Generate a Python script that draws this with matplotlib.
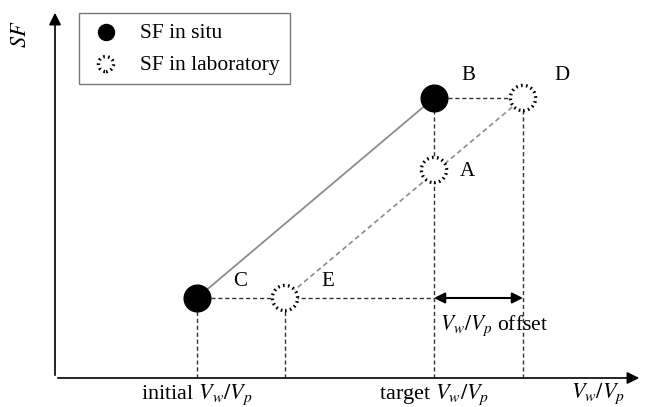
import matplotlib.pyplot as plt

plt.rcParams['font.family'] = ['Liberation Serif', 'DejaVu Serif']
plt.rcParams['mathtext.fontset'] = 'stix'

# schematic values (arbitrary units)
insitu_x = [1.42, 3.79]      # C, B
insitu_y = [0.80, 2.80]
lab_x = [2.30, 3.79, 4.68]   # E, A, D
lab_y = [0.80, 2.08, 2.80]
pt_names = ['C', 'B', 'E', 'A', 'D']
name_x = [1.85, 4.13, 2.73, 4.12, 5.07]
name_y = [0.96, 3.03, 0.96, 2.06, 3.03]
tick_x = [1.42, 3.79]
tick_labels = ['initial $V_w/V_p$', 'target $V_w/V_p$']

fig = plt.figure(figsize=(6.59, 4.07), dpi=100)
ax = fig.add_axes([0, 0, 1, 1])
ax.set_xlim(-0.55, 6.04)
ax.set_ylim(-0.29, 3.78)
ax.axis('off')

# axes with arrows
ax.annotate('', xy=(0, 3.68), xytext=(0, 0),
            arrowprops=dict(arrowstyle='-|>', color='k', lw=1.2, mutation_scale=18))
ax.annotate('', xy=(5.87, 0), xytext=(0, 0),
            arrowprops=dict(arrowstyle='-|>', color='k', lw=1.2, mutation_scale=18))
ax.text(-0.33, 3.44, '$SF$', rotation=90, fontsize=16, ha='center', va='center')
ax.text(5.43, -0.16, '$V_w/V_p$', fontsize=16, ha='center', va='center')
for x, lab in zip(tick_x, tick_labels):
    ax.text(x, -0.17, lab, fontsize=16, ha='center', va='center')

dash = dict(color='#333333', lw=1, linestyle=(0, (3, 2)))
# verticals
ax.plot([insitu_x[0], insitu_x[0]], [0, insitu_y[0]], **dash)
ax.plot([lab_x[0], lab_x[0]], [0, lab_y[0]], **dash)
ax.plot([insitu_x[1], insitu_x[1]], [0, insitu_y[1]], **dash)
ax.plot([lab_x[2], lab_x[2]], [0, lab_y[2]], **dash)
# horizontals
ax.plot([insitu_x[0], insitu_x[1]], [insitu_y[0], insitu_y[0]], **dash)
ax.plot([insitu_x[1], lab_x[2]], [insitu_y[1], lab_y[2]], **dash)
# trend lines
ax.plot(insitu_x, insitu_y, color='#8c8c8c', lw=1.3)
ax.plot([lab_x[0], lab_x[2]], [lab_y[0], lab_y[2]], color='#8c8c8c', lw=1.2,
        linestyle=(0, (3, 2)))

h1 = ax.scatter(insitu_x, insitu_y, s=370, color='k', zorder=5)
h2 = ax.scatter(lab_x, lab_y, s=330, facecolors='white', edgecolors='k', linewidths=2.4,
                linestyles=(0, (0.5, 1.0)), zorder=5)

for n, x, y in zip(pt_names, name_x, name_y):
    ax.text(x, y, n, fontsize=15, ha='center', va='center')

# offset arrow
ax.annotate('', xy=(lab_x[2], lab_y[0]), xytext=(insitu_x[1], lab_y[0]),
            arrowprops=dict(arrowstyle='<|-|>', color='k', lw=1.5, mutation_scale=16,
                            shrinkA=0, shrinkB=0))
ax.text(3.85, 0.52, '$V_w/V_p$ offset', fontsize=15.5, ha='left', va='center')

leg = ax.legend([h1, h2], ['SF in situ', 'SF in laboratory'], loc='upper left',
                bbox_to_anchor=(0.12, 0.968), fontsize=15.5, frameon=True,
                fancybox=False, edgecolor='#555555', borderpad=0.45,
                handletextpad=0.8, handlelength=1.6, labelspacing=0.55,
                scatterpoints=1, markerscale=0.6, borderaxespad=0)
leg.get_frame().set_linewidth(1)

fig.savefig('out.png', dpi=100)
